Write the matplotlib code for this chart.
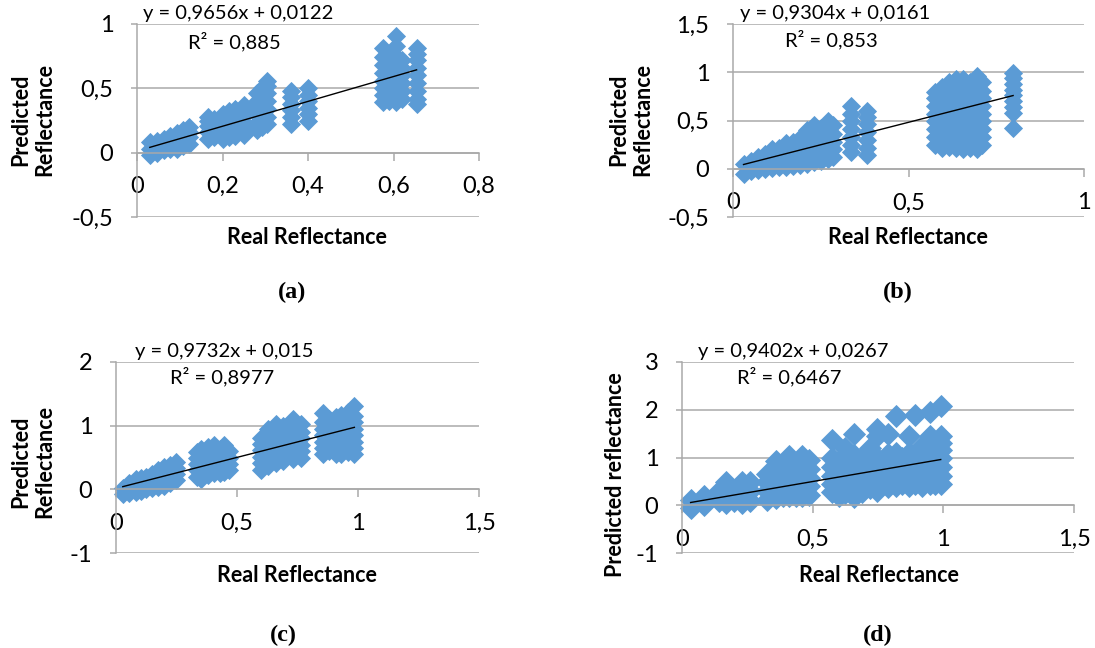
import matplotlib.pyplot as plt
from matplotlib.ticker import FuncFormatter
import numpy as np

# ---- data (each x column with its stacked predicted values) ----
a_x = [0.03, 0.046, 0.062, 0.078, 0.094, 0.108, 0.122,
       0.165, 0.18, 0.2, 0.215, 0.23, 0.25,
       0.28, 0.293, 0.305,
       0.36, 0.40,
       0.575, 0.59, 0.607, 0.62, 0.654]
a_y = [[-0.02, 0.03, 0.08],
       [0.0, 0.05, 0.09],
       [0.02, 0.06, 0.11],
       [0.03, 0.08, 0.13],
       [0.03, 0.08, 0.12, 0.15],
       [0.05, 0.1, 0.14, 0.18],
       [0.07, 0.12, 0.16, 0.2],
       [0.11, 0.16, 0.21, 0.25, 0.28],
       [0.12, 0.17, 0.22, 0.26],
       [0.11, 0.16, 0.21, 0.26, 0.3],
       [0.12, 0.17, 0.22, 0.27, 0.32],
       [0.13, 0.18, 0.24, 0.29, 0.34],
       [0.14, 0.19, 0.24, 0.29, 0.33, 0.37],
       [0.18, 0.23, 0.29, 0.34, 0.4, 0.46],
       [0.2, 0.26, 0.32, 0.38, 0.44, 0.5],
       [0.22, 0.28, 0.34, 0.4, 0.46, 0.52, 0.56],
       [0.22, 0.28, 0.33, 0.38, 0.43, 0.48],
       [0.25, 0.3, 0.35, 0.4, 0.45, 0.5],
       [0.39, 0.45, 0.5, 0.56, 0.62, 0.68, 0.74, 0.81],
       [0.4, 0.46, 0.52, 0.58, 0.64, 0.7, 0.75],
       [0.39, 0.45, 0.51, 0.57, 0.63, 0.69, 0.75, 0.83, 0.91],
       [0.42, 0.48, 0.54, 0.6, 0.66, 0.72],
       [0.38, 0.42, 0.48, 0.54, 0.6, 0.66, 0.72, 0.77, 0.81]]

b_x = [0.03, 0.05, 0.07, 0.09, 0.11, 0.13, 0.15, 0.17, 0.19, 0.21, 0.23, 0.25, 0.27, 0.285,
       0.335, 0.382,
       0.575, 0.595, 0.615, 0.635, 0.655, 0.675, 0.695, 0.71,
       0.798]
b_y = [[-0.05, 0.05],
       [-0.02, 0.05, 0.08],
       [-0.01, 0.06, 0.12],
       [0.0, 0.08, 0.15],
       [0.01, 0.09, 0.2],
       [0.02, 0.1, 0.22],
       [0.02, 0.1, 0.18, 0.27],
       [0.03, 0.11, 0.19, 0.28],
       [0.04, 0.12, 0.2, 0.32],
       [0.05, 0.13, 0.21, 0.3, 0.4],
       [0.07, 0.15, 0.23, 0.31, 0.39, 0.45],
       [0.08, 0.16, 0.24, 0.32, 0.42],
       [0.1, 0.18, 0.26, 0.34, 0.42, 0.5],
       [0.12, 0.2, 0.28, 0.36, 0.45],
       [0.17, 0.25, 0.33, 0.41, 0.49, 0.57, 0.65],
       [0.14, 0.22, 0.3, 0.38, 0.46, 0.54, 0.6],
       [0.25, 0.33, 0.41, 0.49, 0.57, 0.65, 0.73, 0.8],
       [0.21, 0.29, 0.37, 0.45, 0.53, 0.61, 0.69, 0.77, 0.85],
       [0.23, 0.31, 0.39, 0.47, 0.55, 0.63, 0.71, 0.79, 0.9],
       [0.22, 0.3, 0.38, 0.46, 0.54, 0.62, 0.7, 0.78, 0.86, 0.93],
       [0.2, 0.28, 0.36, 0.44, 0.52, 0.6, 0.68, 0.76, 0.84, 0.93],
       [0.22, 0.3, 0.38, 0.46, 0.54, 0.62, 0.7, 0.78, 0.9],
       [0.2, 0.28, 0.36, 0.44, 0.52, 0.6, 0.68, 0.76, 0.84, 0.96],
       [0.25, 0.33, 0.41, 0.49, 0.57, 0.65, 0.73, 0.81, 0.9],
       [0.42, 0.58, 0.64, 0.7, 0.76, 0.82, 0.88, 0.94, 0.99]]

c_x = [0.028, 0.055, 0.083, 0.105, 0.124, 0.15, 0.175, 0.2, 0.225, 0.248,
       0.335, 0.351, 0.38, 0.406, 0.428, 0.448, 0.465,
       0.6, 0.63, 0.661, 0.69, 0.73, 0.765,
       0.854, 0.88, 0.91, 0.93, 0.96, 0.985]
c_y = [[-0.08, 0.02],
       [-0.06, 0.04, 0.1],
       [-0.04, 0.06, 0.16],
       [-0.02, 0.08, 0.18],
       [0.0, 0.1, 0.2],
       [0.02, 0.12, 0.24],
       [0.03, 0.13, 0.23, 0.3],
       [0.06, 0.16, 0.26, 0.35],
       [0.1, 0.2, 0.3, 0.38],
       [0.14, 0.24, 0.34, 0.43],
       [0.2, 0.3, 0.4, 0.5, 0.58],
       [0.17, 0.27, 0.37, 0.47, 0.57, 0.63],
       [0.22, 0.32, 0.42, 0.52, 0.62, 0.66],
       [0.26, 0.36, 0.46, 0.56, 0.66, 0.69],
       [0.25, 0.35, 0.45, 0.55, 0.63],
       [0.28, 0.38, 0.48, 0.58, 0.69],
       [0.3, 0.4, 0.5, 0.6],
       [0.31, 0.41, 0.51, 0.61, 0.71, 0.8],
       [0.36, 0.46, 0.56, 0.66, 0.76, 0.86, 0.95],
       [0.41, 0.51, 0.61, 0.71, 0.81, 0.91, 1.02],
       [0.45, 0.55, 0.65, 0.75, 0.85, 0.95, 1.0],
       [0.47, 0.57, 0.67, 0.77, 0.87, 0.97, 1.1],
       [0.5, 0.6, 0.7, 0.8, 0.9, 1.02],
       [0.55, 0.65, 0.75, 0.85, 0.95, 1.05, 1.2],
       [0.6, 0.7, 0.8, 0.9, 1.0, 1.1],
       [0.55, 0.65, 0.75, 0.85, 0.95, 1.05, 1.13],
       [0.55, 0.65, 0.75, 0.85, 0.95, 1.05, 1.17],
       [0.58, 0.68, 0.78, 0.88, 0.98, 1.08, 1.22],
       [0.55, 0.65, 0.75, 0.85, 0.95, 1.05, 1.15, 1.31]]

d_x = [0.033, 0.084,
       0.141, 0.167, 0.2, 0.23, 0.262,
       0.326, 0.358, 0.385, 0.41, 0.435, 0.46, 0.485,
       0.575, 0.6, 0.625, 0.66, 0.69,
       0.72, 0.747, 0.79, 0.817, 0.84,
       0.87, 0.89, 0.92, 0.95, 0.97, 0.99]
d_y = [[-0.05, 0.1],
       [0.0, 0.2],
       [0.08, 0.3],
       [0.05, 0.22, 0.48],
       [0.08, 0.3],
       [0.05, 0.25, 0.48],
       [0.08, 0.3, 0.48],
       [0.12, 0.3, 0.48, 0.65],
       [0.15, 0.32, 0.5, 0.68, 0.92],
       [0.2, 0.38, 0.56, 0.7],
       [0.19, 0.36, 0.54, 0.72, 1.03],
       [0.2, 0.4, 0.6, 0.78],
       [0.19, 0.36, 0.54, 0.72, 1.03],
       [0.22, 0.4, 0.58, 0.76, 0.95],
       [0.28, 0.45, 0.62, 0.8, 1.0, 1.36],
       [0.2, 0.38, 0.56, 0.74, 0.92],
       [0.25, 0.42, 0.6, 0.78, 1.2],
       [0.18, 0.35, 0.52, 0.7, 0.88, 1.05, 1.5],
       [0.28, 0.45, 0.62, 0.8, 0.98],
       [0.36, 0.53, 0.7, 0.88, 1.05, 1.2],
       [0.3, 0.47, 0.64, 0.82, 1.0, 1.45, 1.6],
       [0.38, 0.55, 0.72, 0.9, 1.08, 1.5],
       [0.4, 0.58, 0.75, 0.92, 1.1, 1.86],
       [0.45, 0.62, 0.8, 1.0],
       [0.4, 0.58, 0.75, 0.92, 1.1, 1.45],
       [0.45, 0.62, 0.8, 1.0, 1.9],
       [0.4, 0.58, 0.75, 0.92, 1.25],
       [0.44, 0.6, 0.78, 0.95, 1.12, 1.45, 1.95],
       [0.45, 0.62, 0.8, 1.0, 1.2],
       [0.45, 0.62, 0.8, 0.98, 1.15, 1.3, 1.45, 2.07]]

slopes = [0.9656, 0.9304, 0.9732, 0.9402]
intercepts = [0.0122, 0.0161, 0.015, 0.0267]
eq_texts = ['y = 0,9656x + 0,0122', 'y = 0,9304x + 0,0161',
            'y = 0,9732x + 0,015', 'y = 0,9402x + 0,0267']
r2_texts = ['R² = 0,885', 'R² = 0,853', 'R² = 0,8977', 'R² = 0,6467']
ylabels = ['Predicted\nReflectance', 'Predicted\nReflectance',
           'Predicted\nReflectance', 'Predicted reflectance']
panel_tags = ['(a)', '(b)', '(c)', '(d)']
xlims = [(0, 0.8), (0, 1), (0, 1.5), (0, 1.5)]
xsteps = [0.2, 0.5, 0.5, 0.5]
ylims = [(-0.5, 1), (-0.5, 1.5), (-1, 2), (-1, 3)]
ysteps = [0.5, 0.5, 1, 1]

W, H = 1095, 648
fig = plt.figure(figsize=(W / 100, H / 100), dpi=100)
FONT = 'Lato'
GRID = '#A9A9A9'
BLUE = '#5B9BD5'


def box(l, t, r, b):
    return [l / W, 1 - b / H, (r - l) / W, (b - t) / H]


def px(x, y):
    return x / W, 1 - y / H


comma = FuncFormatter(lambda v, p: ('%g' % round(v, 3)).replace('.', ','))

# pixel layout: plot box, y-label centre, x-label centre, equation start, R2 start, tag centre, marker size
layout = [
    dict(box=(137, 24, 479, 217), yl=(33, 120), xl=(307, 237), eq=(143, 14), r2=(188, 42), tag=(292, 292), ms=9.2),
    dict(box=(733, 24, 1084, 217), yl=(631, 120), xl=(908, 237), eq=(740, 14), r2=(785, 40), tag=(898, 292), ms=9.2),
    dict(box=(116, 362, 479, 553), yl=(33, 462), xl=(297, 575), eq=(135, 351), r2=(170, 377), tag=(283, 635), ms=9.2),
    dict(box=(682, 362, 1074, 553), yl=(615, 475), xl=(879, 575), eq=(698, 351), r2=(737, 377), tag=(878, 635), ms=11.0),
]

cols_x = [a_x, b_x, c_x, d_x]
cols_y = [a_y, b_y, c_y, d_y]

for i in range(4):
    L = layout[i]
    ax = fig.add_axes(box(*L['box']))
    xs = np.concatenate([[x] * len(ys) for x, ys in zip(cols_x[i], cols_y[i])])
    ys = np.concatenate(cols_y[i])
    ax.plot(xs, ys, linestyle='none', marker='D', ms=L['ms'], color=BLUE,
            mec=BLUE, mew=0.6, zorder=2, clip_on=False)
    lx = np.array([xs.min(), xs.max()])
    ax.plot(lx, slopes[i] * lx + intercepts[i], color='black', lw=1.0, zorder=3)

    ax.set_xlim(*xlims[i])
    ax.set_ylim(*ylims[i])
    ax.set_xticks(np.arange(xlims[i][0], xlims[i][1] + 1e-9, xsteps[i]))
    ax.set_yticks(np.arange(ylims[i][0], ylims[i][1] + 1e-9, ysteps[i]))
    ax.xaxis.set_major_formatter(comma)
    ax.yaxis.set_major_formatter(comma)

    ax.grid(axis='y', color=GRID, lw=1.1)
    ax.set_axisbelow(True)
    for s in ['top', 'right']:
        ax.spines[s].set_visible(False)
    ax.spines['bottom'].set_position(('data', 0))
    ax.spines['bottom'].set_color(GRID)
    ax.spines['left'].set_color(GRID)
    ax.spines['bottom'].set_linewidth(1.1)
    ax.spines['left'].set_linewidth(1.1)
    ax.tick_params(axis='x', direction='out', length=6, width=1.1, color=GRID, pad=11)
    ax.tick_params(axis='y', direction='out', length=4, width=1.1, color=GRID, pad=13)
    for t in ax.get_xticklabels() + ax.get_yticklabels():
        t.set_fontfamily(FONT)
        t.set_fontsize(17)

    fig.text(*px(*L['yl']), ylabels[i], rotation=90, ha='center', va='center',
             fontfamily=FONT, fontweight='bold', fontsize=15.5, linespacing=1.15)
    fig.text(*px(*L['xl']), 'Real Reflectance', ha='center', va='center',
             fontfamily=FONT, fontweight='bold', fontsize=15.5)
    fig.text(*px(*L['eq']), eq_texts[i], ha='left', va='center',
             fontfamily=FONT, fontsize=14.5)
    fig.text(*px(*L['r2']), r2_texts[i], ha='left', va='center',
             fontfamily=FONT, fontsize=14.5)
    fig.text(*px(*L['tag']), panel_tags[i], ha='center', va='center',
             fontfamily='Liberation Serif', fontweight='bold', fontsize=17.5)

fig.savefig('out.png', dpi=100)
